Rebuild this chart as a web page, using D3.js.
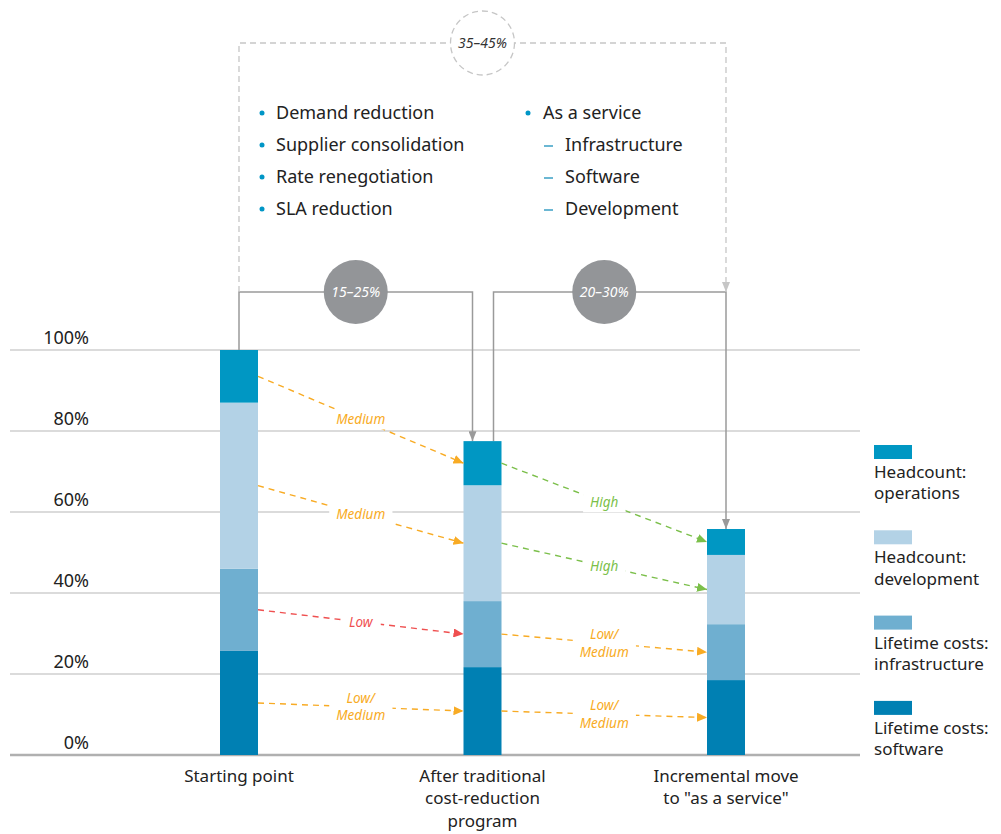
<html>
<head>
<meta charset="utf-8">
<script src="https://cdn.jsdelivr.net/npm/d3@7/dist/d3.min.js"></script>
<style>
  body { margin: 0; background: #fff; }
  text { font-family: "Noto Sans", "Open Sans", sans-serif; }
</style>
</head>
<body>
<svg width="1001" height="834"></svg>
<script>
// ---- data ----
var categories = ["Starting point", "After traditional cost-reduction program", "Incremental move to \"as a service\""];
var categoryLines = [["Starting point"], ["After traditional", "cost-reduction", "program"], ["Incremental move", "to \"as a service\""]];
var seriesKeys = ["software", "infrastructure", "development", "operations"];
var seriesLabels = [["Lifetime costs:", "software"], ["Lifetime costs:", "infrastructure"], ["Headcount:", "development"], ["Headcount:", "operations"]];
var software = [25.7, 21.7, 18.5];
var infrastructure = [20.3, 16.3, 13.8];
var development = [41, 28.6, 17.1];
var operations = [13, 10.9, 6.4];
var yTicks = [0, 20, 40, 60, 80, 100];
// impact of each step on each series (software, infrastructure, development, operations)
var impactStep1 = ["Low/Medium", "Low", "Medium", "Medium"];
var impactStep2 = ["Low/Medium", "Low/Medium", "High", "High"];
var savingsLabels = ["15–25%", "20–30%", "35–45%"];
var leversLeft = ["Demand reduction", "Supplier consolidation", "Rate renegotiation", "SLA reduction"];
var leversRight = ["As a service", "Infrastructure", "Software", "Development"];

var seriesColors = { software: "#0080b3", infrastructure: "#6fafd0", development: "#b3d2e6", operations: "#0097c3" };
var impactColors = { "Low": "#ef5050", "Low/Medium": "#f8ab24", "Medium": "#f8ab24", "High": "#7bbf4a" };

var svg = d3.select("svg");
var defs = svg.append("defs");

var y = d3.scaleLinear().domain([0, 100]).range([755, 350]);
var x = d3.scalePoint().domain(categories).range([239, 726]);
var barW = 38;

var rows = categories.map(function(c, i) {
  return { cat: c, software: software[i], infrastructure: infrastructure[i], development: development[i], operations: operations[i] };
});
var stacked = d3.stack().keys(seriesKeys)(rows);
var totals = rows.map(function(r) { return d3.sum(seriesKeys, function(k) { return r[k]; }); });

function marker(id, color, w, h) {
  defs.append("marker").attr("id", id)
    .attr("markerUnits", "userSpaceOnUse")
    .attr("viewBox", "0 0 " + w + " " + h)
    .attr("refX", w).attr("refY", h / 2)
    .attr("markerWidth", w).attr("markerHeight", h)
    .attr("orient", "auto")
    .append("path").attr("d", "M0,0L" + w + "," + (h / 2) + "L0," + h + "Z").attr("fill", color);
}
Object.keys(impactColors).forEach(function(k, i) { marker("imp" + i, impactColors[k], 10, 9); });
marker("grayArrow", "#9a9a9a", 10, 8);
marker("lightArrow", "#c6c6c6", 10, 8);

// ---- gridlines + y labels ----
var grid = svg.append("g");
grid.selectAll("line").data(yTicks).enter().append("line")
  .attr("x1", 10).attr("x2", 860)
  .attr("y1", function(d) { return y(d); }).attr("y2", function(d) { return y(d); })
  .attr("stroke", function(d) { return d === 0 ? "#b0b0b0" : "#cfcfcf"; })
  .attr("stroke-width", function(d) { return d === 0 ? 2.5 : 1.3; });
grid.selectAll("text").data(yTicks).enter().append("text")
  .attr("x", 89).attr("y", function(d) { return y(d) - 6; })
  .attr("text-anchor", "end").attr("font-size", 18).attr("fill", "#222")
  .text(function(d) { return d + "%"; });

// ---- connectors ----
var conn = svg.append("g").attr("fill", "none");
var yc = 292, yTop = 43;
var c1a = x(categories[0]), c1b = x(categories[1]) - 10;
var c2a = x(categories[1]) + 11, c2b = x(categories[2]);
conn.append("path")
  .attr("d", "M" + c1a + "," + y(totals[0]) + "V" + yc + "H" + c1b + "V" + y(totals[1]))
  .attr("stroke", "#9a9a9a").attr("stroke-width", 1.5).attr("marker-end", "url(#grayArrow)");
conn.append("path")
  .attr("d", "M" + c2a + "," + y(totals[1]) + "V" + yc + "H" + c2b + "V" + y(totals[2]))
  .attr("stroke", "#9a9a9a").attr("stroke-width", 1.5).attr("marker-end", "url(#grayArrow)");
conn.append("path")
  .attr("d", "M" + c1a + "," + yc + "V" + yTop + "H" + c2b + "V" + yc)
  .attr("stroke", "#c6c6c6").attr("stroke-width", 1.3).attr("stroke-dasharray", "6,4")
  .attr("marker-end", "url(#lightArrow)");

var circles = [
  { cx: (c1a + c1b) / 2, cy: yc, fill: "#939598", stroke: "none", color: "#fff", label: savingsLabels[0] },
  { cx: (x(categories[1]) + x(categories[2])) / 2, cy: yc, fill: "#939598", stroke: "none", color: "#fff", label: savingsLabels[1] },
  { cx: (c1a + c2b) / 2, cy: yTop, fill: "#fff", stroke: "#c6c6c6", color: "#333", label: savingsLabels[2] }
];
var cg = svg.append("g").selectAll("g").data(circles).enter().append("g");
cg.append("circle").attr("cx", function(d) { return d.cx; }).attr("cy", function(d) { return d.cy; })
  .attr("r", 32).attr("fill", function(d) { return d.fill; })
  .attr("stroke", function(d) { return d.stroke; }).attr("stroke-dasharray", "6,4").attr("stroke-width", 1.3);
cg.append("text").attr("x", function(d) { return d.cx; }).attr("y", function(d) { return d.cy; })
  .attr("dy", "0.35em").attr("text-anchor", "middle").attr("font-size", 14).attr("font-style", "italic")
  .attr("fill", function(d) { return d.color; }).text(function(d) { return d.label; });

// ---- levers ----
var lev = svg.append("g");
var rowY = d3.scalePoint().domain(d3.range(4)).range([113, 209]);
leversLeft.forEach(function(t, i) {
  lev.append("circle").attr("cx", 262).attr("cy", rowY(i)).attr("r", 2.5).attr("fill", "#0096c6");
  lev.append("text").attr("x", 276).attr("y", rowY(i)).attr("dy", "0.35em").attr("font-size", 18).attr("fill", "#222").text(t);
});
leversRight.forEach(function(t, i) {
  if (i === 0) {
    lev.append("circle").attr("cx", 528).attr("cy", rowY(i)).attr("r", 2.5).attr("fill", "#0096c6");
    lev.append("text").attr("x", 543).attr("y", rowY(i)).attr("dy", "0.35em").attr("font-size", 18).attr("fill", "#222").text(t);
  } else {
    lev.append("line").attr("x1", 544).attr("x2", 553).attr("y1", rowY(i) + 1).attr("y2", rowY(i) + 1)
      .attr("stroke", "#3a9fc4").attr("stroke-width", 1.5);
    lev.append("text").attr("x", 565).attr("y", rowY(i)).attr("dy", "0.35em").attr("font-size", 18).attr("fill", "#222").text(t);
  }
});

// ---- bars ----
var bars = svg.append("g");
stacked.forEach(function(layer) {
  bars.selectAll(null).data(layer).enter().append("rect")
    .attr("x", function(d) { return x(d.data.cat) - barW / 2; })
    .attr("width", barW)
    .attr("y", function(d) { return y(d[1]); })
    .attr("height", function(d) { return y(d[0]) - y(d[1]); })
    .attr("fill", seriesColors[layer.key]);
});

// ---- impact arrows ----
var arrows = svg.append("g");
var impactKeys = Object.keys(impactColors);
[impactStep1, impactStep2].forEach(function(impacts, step) {
  stacked.forEach(function(layer, k) {
    var a = layer[step], b = layer[step + 1];
    var x0 = x(categories[step]) + barW / 2, y0 = y((a[0] + a[1]) / 2);
    var x1 = x(categories[step + 1]) - barW / 2, y1 = y((b[0] + b[1]) / 2);
    var lbl = impacts[k], col = impactColors[lbl];
    arrows.append("line").attr("x1", x0).attr("y1", y0).attr("x2", x1).attr("y2", y1)
      .attr("stroke", col).attr("stroke-width", 1.4).attr("stroke-dasharray", "6,5")
      .attr("marker-end", "url(#imp" + impactKeys.indexOf(lbl) + ")");
    var mx = (x0 + x1) / 2, my = (y0 + y1) / 2;
    var parts = lbl.indexOf("/") >= 0 ? [lbl.split("/")[0] + "/", lbl.split("/")[1]] : [lbl];
    var g = arrows.append("g");
    var bg = g.append("rect").attr("fill", "#fff");
    var t = g.append("text").attr("text-anchor", "middle").attr("font-size", 13.5)
      .attr("font-style", "italic").attr("fill", col);
    parts.forEach(function(p, j) {
      t.append("tspan").attr("x", mx).attr("y", my + (j - (parts.length - 1) / 2) * 17.5).attr("dy", "0.35em").text(p);
    });
    var bb = t.node().getBBox();
    bg.attr("x", bb.x - 7).attr("y", bb.y - 1).attr("width", bb.width + 14).attr("height", bb.height + 2);
  });
});

// ---- category labels ----
var xl = svg.append("g");
categoryLines.forEach(function(lines, i) {
  var t = xl.append("text").attr("text-anchor", "middle").attr("font-size", 17).attr("fill", "#222");
  lines.forEach(function(l, j) {
    t.append("tspan").attr("x", x(categories[i])).attr("y", 776 + j * 22.5).attr("dy", "0.35em").text(l);
  });
});

// ---- legend ----
var legendOrder = [3, 2, 1, 0];
var lg = svg.append("g").selectAll("g").data(legendOrder).enter().append("g")
  .attr("transform", function(d, i) { return "translate(874," + (445 + i * 85.3) + ")"; });
lg.append("rect").attr("width", 38).attr("height", 14).attr("fill", function(d) { return seriesColors[seriesKeys[d]]; });
lg.each(function(d) {
  var t = d3.select(this).append("text").attr("font-size", 17).attr("fill", "#222");
  seriesLabels[d].forEach(function(l, j) {
    t.append("tspan").attr("x", 0).attr("y", 27 + j * 21.5).attr("dy", "0.35em").text(l);
  });
});
</script>
</body>
</html>
